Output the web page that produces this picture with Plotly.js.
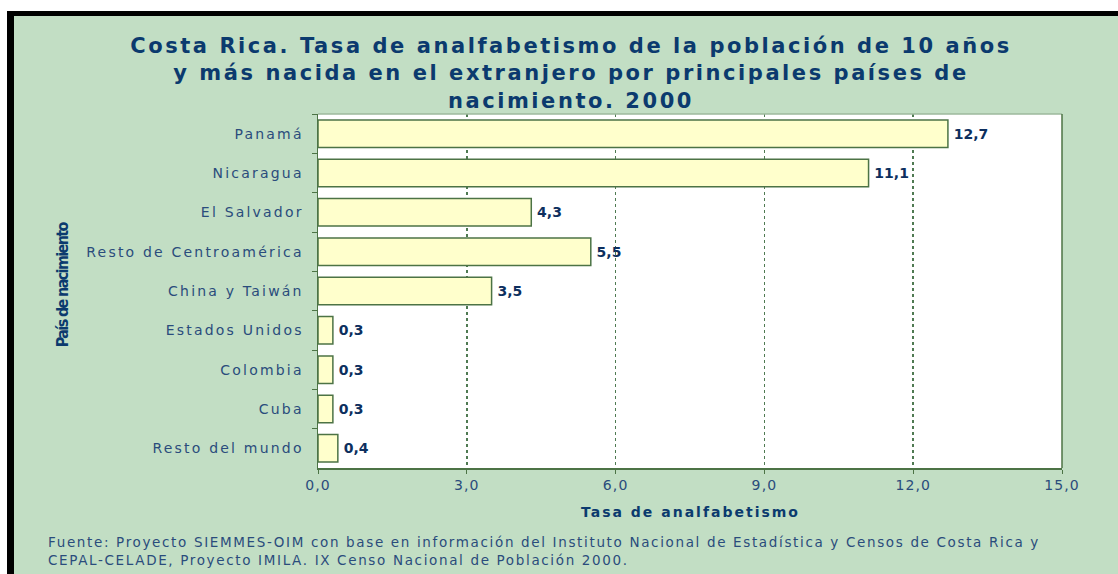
<!DOCTYPE html>
<html>
<head>
<meta charset="utf-8">
<script src="https://cdn.plot.ly/plotly-3.0.1.min.js"></script>
<style>
  html, body { margin:0; padding:0; background:#ffffff; }
  #chart { position:absolute; left:0; top:0; width:1118px; height:574px; }
  .frame-top { position:absolute; left:0; top:0; width:1118px; height:11px; background:#ffffff; }
  .frame-top-black { position:absolute; left:7px; top:11px; width:1111px; height:5px; background:#000000; }
  .frame-left { position:absolute; left:0; top:0; width:7px; height:574px; background:#ffffff; }
  .frame-left-black { position:absolute; left:7px; top:11px; width:7px; height:563px; background:#000000; }
  .gtitle { letter-spacing: 2.55px; }
  .xtick text { letter-spacing: 1.1px; }
  .ytick text { letter-spacing: 2.2px; }
  .textpoint text { letter-spacing: 2px; }
</style>
</head>
<body>
<div id="chart"></div>
<div class="frame-top"></div>
<div class="frame-left"></div>
<div class="frame-top-black"></div>
<div class="frame-left-black"></div>
<script>
const categories = ["Panamá", "Nicaragua", "El Salvador", "Resto de Centroamérica", "China y Taiwán", "Estados Unidos", "Colombia", "Cuba", "Resto del mundo"];
const rates = [12.7, 11.1, 4.3, 5.5, 3.5, 0.3, 0.3, 0.3, 0.4];
const xTicks = [0, 3, 6, 9, 12, 15];

const titleText = "Costa Rica. Tasa de analfabetismo de la población de 10 años<br>y más nacida en el extranjero por principales países de<br>nacimiento. 2000";
const xTitle = "Tasa de analfabetismo";
const yTitle = "País de nacimiento";
const sourceText = "Fuente: Proyecto SIEMMES-OIM con base en información del Instituto Nacional de Estadística y Censos de Costa Rica y<br>CEPAL-CELADE, Proyecto IMILA. IX Censo Nacional de Población 2000.";

const W = 1118, H = 574;
const L = 318, R = 1062, T = 114, B = 468;
const px2x = p => (p - L) / (R - L);
const py2y = p => (B - p) / (B - T);

const navy = "#0b3a6e";
const labelBlue = "#2a4c7c";
const green = "#4c7345";

const trace = {
  type: "bar",
  orientation: "h",
  x: rates,
  y: categories,
  marker: { color: "#ffffcc", line: { color: green, width: 1.5 } },
  width: 0.7,
  texttemplate: "\u2009%{x:.1f}",
  textposition: "outside",
  cliponaxis: false,
  textfont: { family: "DejaVu Sans", size: 14, color: "#0d2f5e", weight: "bold" },
  hoverinfo: "skip"
};

const layout = {
  width: W, height: H,
  separators: ",.",
  paper_bgcolor: "#c2dec4",
  plot_bgcolor: "#ffffff",
  margin: { l: L, r: W - R, t: T, b: H - B, pad: 0 },
  showlegend: false,
  font: { family: "DejaVu Sans", color: labelBlue },
  title: {
    text: titleText,
    font: { family: "DejaVu Sans", size: 21, color: navy, weight: "bold" },
    x: 571 / W, xref: "container", xanchor: "center",
    y: 1 - 53 / H, yref: "container", yanchor: "top"
  },
  xaxis: {
    range: [0, 15],
    tickvals: xTicks,
    tickformat: ".1f",
    ticks: "outside", ticklen: 4, tickcolor: green, tickwidth: 1,
    tickfont: { family: "DejaVu Sans", size: 14, color: labelBlue },
    showgrid: true, gridcolor: "#4f7a52", griddash: "dot", gridwidth: 1.5,
    zeroline: false,
    showline: true, linecolor: green, linewidth: 1.5,
    fixedrange: true
  },
  yaxis: {
    type: "category",
    categoryorder: "array",
    categoryarray: categories,
    autorange: "reversed",
    ticks: "outside", ticklen: 5, tickcolor: green, tickwidth: 1,
    tickson: "boundaries",
    ticklabelstandoff: 10,
    tickfont: { family: "DejaVu Sans", size: 14, color: labelBlue },
    showgrid: false, zeroline: false,
    showline: true, linecolor: green, linewidth: 1.5,
    fixedrange: true
  },
  shapes: [
    { type: "line", xref: "paper", yref: "paper", x0: 0, x1: 1, y0: 1, y1: 1, line: { color: "#9cb89c", width: 1.5 } },
    { type: "line", xref: "paper", yref: "paper", x0: 1, x1: 1, y0: 0, y1: 1, line: { color: green, width: 1.5 } }
  ],
  annotations: [
    {
      text: xTitle, xref: "paper", yref: "paper",
      x: 0.5, y: py2y(512), xanchor: "center", yanchor: "middle", showarrow: false,
      font: { family: "DejaVu Sans", size: 14, color: navy, weight: "bold" }
    },
    {
      text: yTitle, xref: "paper", yref: "paper",
      x: px2x(62), y: py2y(285), xanchor: "center", yanchor: "middle", showarrow: false,
      textangle: -90,
      font: { family: "DejaVu Sans Condensed, sans-serif", size: 16, color: navy, weight: "bold" }
    },
    {
      text: sourceText, xref: "paper", yref: "paper",
      x: px2x(46), y: py2y(551), xanchor: "left", yanchor: "middle", align: "left", showarrow: false,
      font: { family: "DejaVu Sans", size: 13.5, color: labelBlue }
    }
  ]
};

Plotly.newPlot("chart", [trace], layout, { displayModeBar: false, staticPlot: true }).then(() => {
  const ann = document.querySelectorAll(".annotation-text");
  if (ann[0]) ann[0].style.letterSpacing = "2px";
  if (ann[1]) ann[1].style.letterSpacing = "-1.65px";
  if (ann[2]) ann[2].style.letterSpacing = "1.65px";
});
</script>
</body>
</html>
